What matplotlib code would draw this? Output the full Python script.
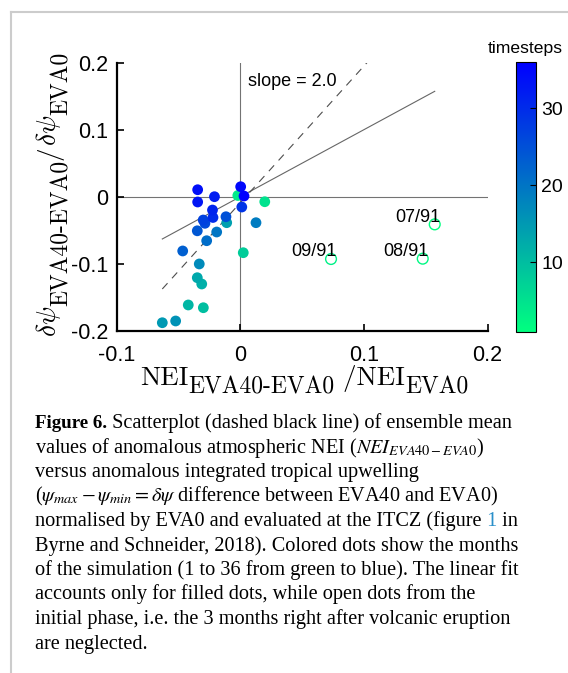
import numpy as np
import matplotlib
matplotlib.use("Agg")
import matplotlib.pyplot as plt
from matplotlib.lines import Line2D
from matplotlib.colors import Normalize
from matplotlib.cm import ScalarMappable

# open circles: first 3 months after the eruption (left out of the fit)
open_x = [0.1573, 0.1476, 0.0734]
open_y = [-0.0413, -0.0925, -0.0930]
open_month = [1, 2, 3]
open_label = ["07/91", "08/91", "09/91"]

# filled dots (month index of the simulation)
fill_month = [4, 5, 8, 10, 11, 12, 13, 14, 15, 16, 17, 19, 20, 21, 23, 24,
              25, 26, 27, 29, 30, 31, 32, 33, 34, 35, 36]
fill_x = [-0.0020, 0.0198, 0.0024, -0.0299, -0.0421, -0.0312, -0.0348, -0.0110,
          -0.0631, -0.0523, -0.0332, 0.0127, -0.0191, -0.0272, -0.0466, -0.0348,
          -0.0116, -0.0286, -0.0300, 0.0012, -0.0221, -0.0225, -0.0209, -0.0345,
          -0.0345, 0.0003, 0.0030]
fill_y = [0.0018, -0.0075, -0.0836, -0.1657, -0.1616, -0.1303, -0.1209, -0.0388,
          -0.1881, -0.1855, -0.1004, -0.0388, -0.0527, -0.0657, -0.0810, -0.0509,
          -0.0299, -0.0397, -0.0348, -0.0154, -0.0310, -0.0199, 0.0000, -0.0079,
          0.0104, 0.0149, 0.0010]

# lines: 1:1 reference (solid) and linear fit (dashed)
line_slope = [1.0, 2.04]
line_icpt = [0.0, -0.009]
slope_text = "slope = 2.0"

xticks = [-0.1, 0, 0.1, 0.2]
yticks = [-0.2, -0.1, 0, 0.1, 0.2]
cbar_ticks = [10, 20, 30]
n_months = 36

caption = [
    [("Figure 6.", "bold", "k"), (" Scatterplot (dashed black line) of ensemble mean", "normal", "k")],
    [("values of anomalous atmospheric NEI ($NEI_{EVA40-EVA0}$)", "normal", "k")],
    [("versus anomalous integrated tropical upwelling", "normal", "k")],
    [(r"($\psi_{max} - \psi_{min} = \delta\psi$ difference between EVA40 and EVA0)", "normal", "k")],
    [("normalised by EVA0 and evaluated at the ITCZ (figure", "normal", "k"),
     (" 1", "normal", "#2a8fc9"), (" in", "normal", "k")],
    [("Byrne and Schneider, 2018). Colored dots show the months", "normal", "k")],
    [("of the simulation (1 to 36 from green to blue). The linear fit", "normal", "k")],
    [("accounts only for filled dots, while open dots from the", "normal", "k")],
    [("initial phase, i.e. the 3 months right after volcanic eruption", "normal", "k")],
    [("are neglected.", "normal", "k")],
]

plt.rcParams['axes.unicode_minus'] = False
plt.rcParams['font.family'] = ['Liberation Sans', 'DejaVu Sans']

W, H = 568, 673
fig = plt.figure(figsize=(W / 100, H / 100), dpi=100)
renderer = fig.canvas.get_renderer()


def fx(px):
    return px / W


def fy(py):
    return 1 - py / H


def put_pieces(x, y, pieces, rotation=0):
    # lay text pieces one after another, in pixels from top-left
    for txt, kw in pieces:
        kw = dict(kw)
        dy = kw.pop('dy', 0)
        if rotation:
            t = fig.text(fx(x + dy), fy(y), txt, rotation=90, rotation_mode='anchor',
                         ha='left', va='baseline', **kw)
            y -= t.get_window_extent(renderer).height
        else:
            t = fig.text(fx(x), fy(y + dy), txt, ha='left', va='baseline', **kw)
            x += t.get_window_extent(renderer).width


cmap = plt.get_cmap('winter_r')
norm = Normalize(1, n_months)

ax = fig.add_axes([fx(116.7), fy(330.7), (487.5 - 116.7) / W, (330.7 - 62.7) / H])
ax.set_xlim(-0.1, 0.2)
ax.set_ylim(-0.2, 0.2)
ax.axhline(0, color='0.45', lw=0.8, zorder=1)
ax.axvline(0, color='0.45', lw=0.8, zorder=1)

all_x = np.array(fill_x + open_x)
xx = np.array([all_x.min(), all_x.max()])
ax.plot(xx, line_slope[0] * xx + line_icpt[0], color='0.4', lw=0.8, zorder=2)
ax.plot(xx, line_slope[1] * xx + line_icpt[1], color='0.3', lw=0.8,
        dashes=(7, 6), zorder=2)

ax.scatter(fill_x, fill_y, c=fill_month, cmap=cmap, norm=norm, s=60,
           linewidths=0, zorder=3)
ax.scatter(open_x, open_y, facecolors='none', edgecolors=cmap(norm(open_month)),
           s=60, linewidths=1.0, zorder=3)
for xo, yo, lab in zip(open_x, open_y, open_label):
    ax.annotate(lab, (xo, yo), xytext=(4, 2), textcoords='offset points',
                ha='right', va='baseline', fontsize=13)

ax.text(0.0062, 0.165, slope_text, fontsize=13, va='baseline')

ax.set_xticks(xticks)
ax.set_xticklabels(["-0.1", "0", "0.1", "0.2"])
ax.set_yticks(yticks)
ax.set_yticklabels(["-0.2", "-0.1", "0", "0.1", "0.2"])
ax.tick_params(direction='in', length=5, width=1.2, labelsize=15.5)
ax.tick_params(axis='x', pad=10)
ax.tick_params(axis='y', pad=6)
for side in ['top', 'right']:
    ax.spines[side].set_visible(False)
for side in ['left', 'bottom']:
    ax.spines[side].set_linewidth(1.6)

# colorbar
cax = fig.add_axes([fx(515.7), fy(331.7), 20 / W, (331.7 - 62.3) / H])
cb = fig.colorbar(ScalarMappable(norm=norm, cmap=cmap), cax=cax, ticks=cbar_ticks)
cb.ax.tick_params(direction='in', length=4, width=0.8, labelsize=14, pad=4)
cb.outline.set_linewidth(0.8)
fig.text(fx(525.7), fy(48), "timesteps", ha='center', va='center', fontsize=12.6)

# axis labels, built piece by piece (Computer Modern look)
big = dict(family='cmr10', fontsize=19.5)
sub = dict(family='cmr10', fontsize=17)
put_pieces(140, 385, [("NEI", big), ("EVA40-EVA0", dict(sub, dy=8)),
                      (" /NEI", big), ("EVA0", dict(sub, dy=8))])

mbig = dict(fontsize=19.5, math_fontfamily='cm')
put_pieces(56, 337, [(r"$\delta\psi$", mbig), ("EVA40-EVA0", dict(sub, dy=12)),
                     ("/", big), (r"$\delta\psi$", mbig), ("EVA0", dict(sub, dy=12))],
           rotation=90)

# caption
cap_font = dict(family=['Liberation Serif', 'DejaVu Serif'], fontsize=14.6,
                math_fontfamily='stix')
for i, line in enumerate(caption):
    pieces = []
    for txt, w, c in line:
        kw = dict(cap_font, weight=w, color=c)
        if w == 'bold':
            kw['fontsize'] = 13.7
        pieces.append((txt, kw))
    put_pieces(35, 428 + i * 24.5, pieces)

# grey frame of the page
fig.add_artist(Line2D([fx(11), fx(11)], [fy(12), 0], color='0.8', lw=1.5))
fig.add_artist(Line2D([fx(11), 1], [fy(12), fy(12)], color='0.8', lw=1.5))

fig.savefig('out.png', dpi=100)
